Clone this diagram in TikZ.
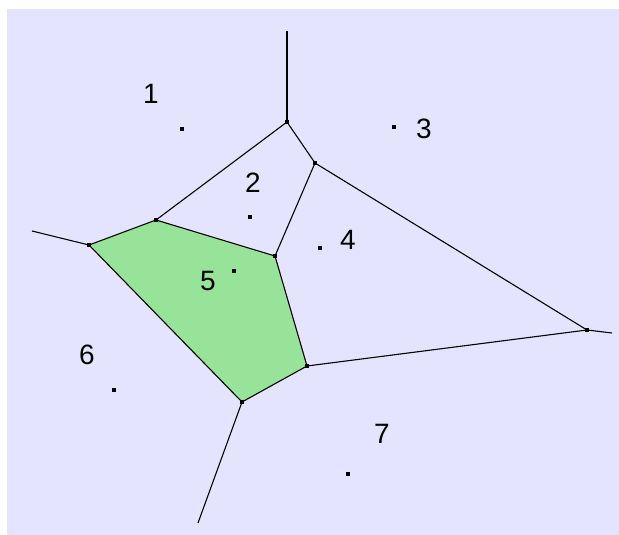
\documentclass[tikz,border=0pt]{standalone}
\usepackage{fontspec}
\setmainfont{Liberation Sans}
\usepackage{tikz}

\definecolor{lavbg}{RGB}{228,228,254}
\definecolor{cellgreen}{RGB}{152,227,154}

\begin{document}
\begin{tikzpicture}[
  x=1pt,y=-1pt,
  site/.style={fill=black,inner sep=0pt,minimum size=4.5pt},
  vtx/.style={fill=black,inner sep=0pt,minimum size=3.5pt},
  num/.style={inner sep=0pt,font=\fontsize{28}{30}\selectfont},
  edge/.style={line width=1.1pt,draw=black}
]
\useasboundingbox (0,0) rectangle (619,535);
\fill[lavbg] (7,9) rectangle (619,535);

% Voronoi vertices
\node[vtx] (va) at (287,122) {};
\node[vtx] (vb) at (315,163) {};
\node[vtx] (vc) at (156,220) {};
\node[vtx] (vd) at (89,245) {};
\node[vtx] (ve) at (275,256) {};
\node[vtx] (vf) at (307,366) {};
\node[vtx] (vg) at (242,402) {};
\node[vtx] (vh) at (587,330) {};
\coordinate (ra) at (287,31);
\coordinate (rd) at (32,231);
\coordinate (rg) at (198,523);
\coordinate (rh) at (612,333);

% cell of site 5
\fill[cellgreen] (vd.center) -- (vc.center) -- (ve.center) -- (vf.center) -- (vg.center) -- cycle;

\draw[edge] (va.center) -- (ra);
\draw[edge] (vd.center) -- (rd);
\draw[edge] (vg.center) -- (rg);
\draw[edge] (vh.center) -- (rh);
\draw[edge] (va.center) -- (vc.center);
\draw[edge] (va.center) -- (vb.center);
\draw[edge] (vb.center) -- (ve.center);
\draw[edge] (vb.center) -- (vh.center);
\draw[edge] (vc.center) -- (ve.center);
\draw[edge] (vc.center) -- (vd.center);
\draw[edge] (vd.center) -- (vg.center);
\draw[edge] (vg.center) -- (vf.center);
\draw[edge] (vf.center) -- (ve.center);
\draw[edge] (vf.center) -- (vh.center);
\foreach \v in {va,vb,vc,vd,ve,vf,vg,vh}
  \node[vtx] at (\v) {};

% sites and their numbers
\node[site] (s1) at (182,129) {};
\node[site] (s2) at (250,217) {};
\node[site] (s3) at (394,127) {};
\node[site] (s4) at (320,248) {};
\node[site] (s5) at (234,271) {};
\node[site] (s6) at (114,390) {};
\node[site] (s7) at (348,474) {};
\node[num] (n1) at (151,94) {1};
\node[num] (n2) at (253,183) {2};
\node[num] (n3) at (424,129) {3};
\node[num] (n4) at (348,240) {4};
\node[num] (n5) at (208,281) {5};
\node[num] (n6) at (87,355) {6};
\node[num] (n7) at (382,434) {7};
\end{tikzpicture}
\end{document}
